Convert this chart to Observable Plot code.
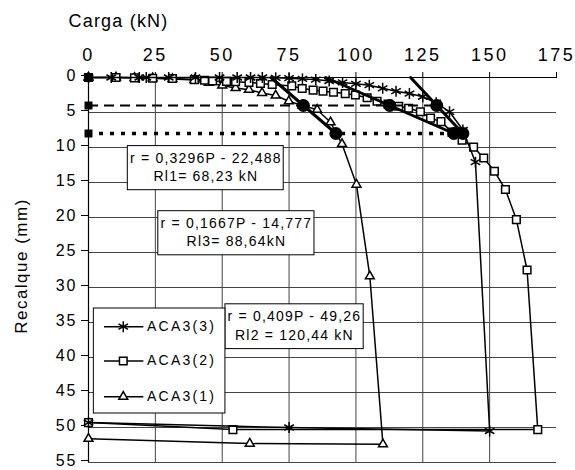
<!DOCTYPE html>
<html><head><meta charset="utf-8">
<script src="https://cdn.jsdelivr.net/npm/d3@7"></script>
<script src="https://cdn.jsdelivr.net/npm/@observablehq/plot@0.6"></script>
<style>
body{margin:0;background:#fff}
svg text{letter-spacing:1.2px}
</style>
</head><body><div id="chart"></div>
<script>
// ---- tick labels / axis titles ----
const xTitle = "Carga (kN)";
const yTitle = "Recalque (mm)";
const xTicks = [0, 25, 50, 75, 100, 125, 150, 175];
const xGrid = [0, 25, 50, 75, 100, 125, 150];
const yTicks = [0, 5, 10, 15, 20, 25, 30, 35, 40, 45, 50, 55];

// ---- series (load P in kN, settlement r in mm) ----
const seriesNames = ["ACA3(3)", "ACA3(2)", "ACA3(1)"];
const load3 = [0, 8.5, 19, 21.6, 30, 40, 49, 55.6, 60.6, 65, 70, 75, 80, 85, 90, 95, 100, 105, 110, 115, 120, 125, 130, 135, 140, 144.7, 150, 75, 0];
const settle3 = [0, 0, 0, 0, 0, 0, 0, 0, 0, 0, 0.05, 0.1, 0.2, 0.3, 0.5, 0.7, 0.9, 1.1, 1.55, 1.95, 2.3, 2.75, 3.6, 4.9, 7.5, 12.1, 50.5, 50.0, 49.3];
const load2 = [0, 10.3, 17.2, 24, 31.4, 39.6, 43.4, 46.4, 51.6, 55, 60, 64.3, 68.7, 76, 79.9, 84, 87.7, 91.6, 96, 99.8, 104.2, 107.9, 112, 116, 119.7, 124.1, 127.9, 131.8, 135.9, 139.7, 144, 147.8, 151.8, 155.9, 160, 164, 168, 54, 0];
const settle2 = [0, 0, 0.05, 0.1, 0.15, 0.3, 0.4, 0.5, 0.55, 0.6, 0.7, 0.85, 1.0, 1.2, 1.57, 1.8, 1.95, 2.1, 2.3, 2.5, 2.9, 3.4, 3.8, 4.1, 4.4, 4.9, 5.8, 6.3, 7.8, 8.95, 9.95, 11.5, 13.4, 16, 20.3, 27.5, 50.3, 50.3, 49.3];
const load1 = [0, 10.3, 17.2, 24, 31.4, 39.6, 45, 50, 55, 60, 64.9, 70, 74.9, 80, 85.5, 90.5, 94.8, 100.2, 105.2, 110.1, 60.3, 0];
const settle1 = [0, 0, 0.05, 0.1, 0.2, 0.35, 0.75, 1.14, 1.5, 1.75, 2.2, 2.57, 3.4, 4.0, 4.6, 6.4, 9.5, 15.3, 28.4, 52.4, 52.3, 51.6];
const symbols = ["asterisk", "square", "triangle"];
const symbolR = [5.2, 4.3, 3.3];

// ---- fitted lines r = a*P + b ----
const fitSlope = [0.3296, 0.1667, 0.409];
const fitIntercept = [-22.488, -14.777, -49.26];
const fitLine1 = ["r = 0,3296P - 22,488", "r = 0,1667P - 14,777", "r = 0,409P - 49,26"];
const fitLine2 = ["Rl1= 68,23 kN", "Rl3= 88,64kN", "Rl2 = 120,44 kN"];
const refSettle = [0, 4, 8];
const refDash = [null, "10,6", "4,7"];

// ---- layout (annotation boxes / legend, data units) ----
const annBox = [
  {x1: 14.7, x2: 73.0, y1: 9.8, y2: 16.1, cx: 43.9, l1: 11.6, l2: 14.2},
  {x1: 26.1, x2: 84.5, y1: 19.1, y2: 25.4, cx: 55.3, l1: 20.8, l2: 23.5},
  {x1: 51.2, x2: 102.9, y1: 32.4, y2: 38.8, cx: 77.0, l1: 34.2, l2: 36.9}
];
const legendBox = {x1: 2.0, x2: 51.2, y1: 33.0, y2: 48.0, lx1: 6.0, lx2: 20.7, mx: 13.0, tx: 21.9, ys: [35.6, 40.5, 45.6]};

// ---- build tables ----
const series = [[load3, settle3], [load2, settle2], [load1, settle1]].map(([P, r], i) =>
  P.map((p, j) => ({P: p, r: r[j], name: seriesNames[i]})));
const fitPts = fitSlope.flatMap((a, i) => [0, 8].map(r => ({fit: i, r, P: (r - fitIntercept[i]) / a})));
const circles = fitSlope.flatMap((a, i) => [4, 8].map(r => ({r, P: (r - fitIntercept[i]) / a})));
const rule4End = Math.max(...circles.filter(d => d.r === 4).map(d => d.P));
const rule8End = Math.max(...circles.filter(d => d.r === 8).map(d => d.P));
const refSquares = refSettle.map(r => ({P: 0, r}));
const annText = annBox.flatMap((b, i) => [{x: b.cx, y: b.l1, t: fitLine1[i]}, {x: b.cx, y: b.l2, t: fitLine2[i]}]);
const legRows = seriesNames.map((n, i) => ({name: n, symbol: symbols[i], sr: symbolR[i], y: legendBox.ys[i]}));

const font = "'Liberation Sans', Arial, sans-serif";
const grid = "#444";
const marks = [
  Plot.ruleY(yTicks, {x1: 0, x2: 175, stroke: grid, strokeWidth: 1}),
  Plot.ruleX(xGrid, {y1: 0, y2: 55, stroke: grid, strokeWidth: 1}),
  Plot.ruleX([0], {y1: 0, y2: 55, stroke: "#000", strokeWidth: 1.2}),
  Plot.ruleY([0], {x1: 0, x2: 175, stroke: "#000", strokeWidth: 1.2}),
  Plot.axisX(xTicks, {anchor: "top", tickSize: 6, tickPadding: 11, fontSize: 18, label: null, stroke: "#000"}),
  Plot.axisY(yTicks, {anchor: "left", tickSize: 7, tickPadding: 4, fontSize: 16, dy: -2, label: null, stroke: "#000"}),
  Plot.text([xTitle], {frameAnchor: "top-left", dx: -20, dy: -56, textAnchor: "start", lineAnchor: "middle", fontSize: 18, className: "ttl"}),
  Plot.text([yTitle], {frameAnchor: "left", dx: -67, dy: -4, rotate: -90, textAnchor: "middle", lineAnchor: "middle", fontSize: 17, className: "ytl"})
];
// draw order: ACA3(1), ACA3(2), ACA3(3)
[2, 1, 0].forEach(i => {
  const s = series[i];
  marks.push(Plot.line(s, {x: "P", y: "r", stroke: "#000", strokeWidth: 1.5}));
  marks.push(Plot.dot(s, {x: "P", y: "r", symbol: symbols[i], r: symbolR[i], stroke: "#000", fill: "#fff", strokeWidth: 1.5}));
});
marks.push(
  Plot.ruleY([refSettle[1]], {x1: 0, x2: rule4End, stroke: "#000", strokeWidth: 2, strokeDasharray: refDash[1]}),
  Plot.ruleY([refSettle[2]], {x1: 0, x2: rule8End, stroke: "#000", strokeWidth: 3.5, strokeDasharray: refDash[2]}),
  Plot.line(fitPts, {x: "P", y: "r", z: "fit", stroke: "#000", strokeWidth: 3}),
  Plot.dot(circles, {x: "P", y: "r", r: 6.5, fill: "#000"}),
  Plot.dot(refSquares, {x: "P", y: "r", symbol: "square", r: 4.5, fill: "#000"}),
  Plot.rect(annBox, {x1: "x1", x2: "x2", y1: "y1", y2: "y2", fill: "#fff", stroke: "#000", strokeWidth: 1}),
  Plot.text(annText, {x: "x", y: "y", text: "t", fontSize: 14, textAnchor: "middle", lineAnchor: "middle", fill: "#000"}),
  Plot.rect([legendBox], {x1: "x1", x2: "x2", y1: "y1", y2: "y2", fill: "#fff", stroke: "#000", strokeWidth: 1}),
  Plot.ruleY(legRows, {y: "y", x1: legendBox.lx1, x2: legendBox.lx2, stroke: "#000", strokeWidth: 1.5}),
  ...legRows.map(d => Plot.dot([d], {x: legendBox.mx, y: "y", symbol: d.symbol, r: d.sr, stroke: "#000", fill: "#fff", strokeWidth: 1.5})),
  Plot.text(legRows, {x: legendBox.tx, y: "y", text: "name", fontSize: 14, textAnchor: "start", lineAnchor: "middle", fill: "#000", className: "leg"})
);

const plot = Plot.plot({
  width: 575, height: 470,
  marginLeft: 88, marginRight: 19, marginTop: 77, marginBottom: 8,
  style: {fontFamily: font, background: "#fff", overflow: "visible", color: "#000"},
  x: {domain: [0, 175]},
  y: {domain: [0, 55], reverse: true},
  marks
});
document.getElementById("chart").appendChild(plot);
const svg = d3.select(plot);
const setLS = (sel, v) => svg.selectAll(sel).attr("letter-spacing", v).style("letter-spacing", v);
setLS('g[aria-label="x-axis tick label"] text', "2.5px");
setLS('g[aria-label="y-axis tick label"] text', "2px");
setLS('g.ttl text', "1.2px");
setLS('g.ytl text', "1.5px");
setLS('g.leg text', "2.2px");
</script></body></html>
